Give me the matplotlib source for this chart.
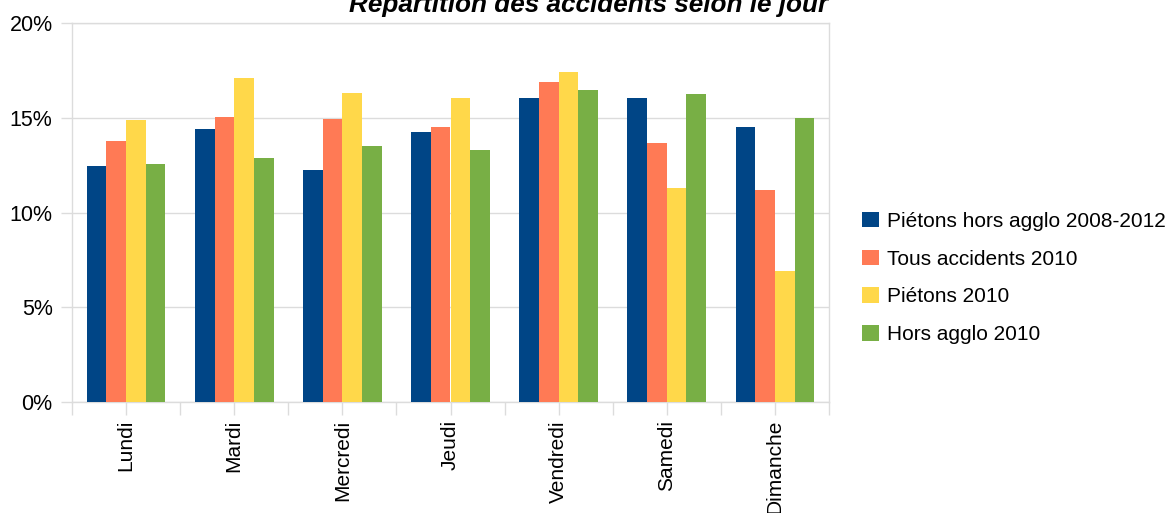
import matplotlib
matplotlib.use("Agg")
import matplotlib.pyplot as plt
import numpy as np
from matplotlib.ticker import FixedLocator

plt.rcParams['font.family'] = ['Liberation Sans', 'DejaVu Sans']

jours = ["Lundi", "Mardi", "Mercredi", "Jeudi", "Vendredi", "Samedi", "Dimanche"]
series_names = ["Piétons hors agglo 2008-2012", "Tous accidents 2010",
                "Piétons 2010", "Hors agglo 2010"]
pietons_hors_agglo = [12.46, 14.40, 12.26, 14.24, 16.07, 16.03, 14.52]
tous_accidents = [13.80, 15.05, 14.96, 14.50, 16.88, 13.66, 11.19]
pietons_2010 = [14.89, 17.12, 16.30, 16.07, 17.41, 11.30, 6.91]
hors_agglo = [12.58, 12.88, 13.51, 13.30, 16.49, 16.25, 15.00]
y_ticks = [0, 5, 10, 15, 20]
y_labels = ["0%", "5%", "10%", "15%", "20%"]
title = "Répartition des accidents selon le jour"

colors = ["#004586", "#FF7A55", "#FFD84A", "#78AF45"]
values = [pietons_hors_agglo, tous_accidents, pietons_2010, hors_agglo]

W, H = 1175, 513
fig = plt.figure(figsize=(W / 100, H / 100), dpi=100)
ax = fig.add_axes([72 / W, 1 - 402 / H, (829 - 72) / W, (402 - 23.3) / H])

x = np.arange(len(jours))
bw = 0.182
for i, (vals, col, name) in enumerate(zip(values, colors, series_names)):
    ax.bar(x + (i - 1.5) * bw, vals, width=bw, color=col, label=name,
           linewidth=0, zorder=3)

grid_col = "#dcdcdc"
ax.set_xlim(-0.5, len(jours) - 0.5)
ax.set_ylim(0, 20)
ax.set_yticks(y_ticks)
ax.set_yticklabels(y_labels)
ax.yaxis.grid(True, color=grid_col, linewidth=1, zorder=0)
ax.set_axisbelow(True)

ax.set_xticks(x)
ax.set_xticklabels(jours, rotation=90)
ax.xaxis.set_minor_locator(FixedLocator(np.arange(-0.5, len(jours), 1.0)))

for s in ax.spines.values():
    s.set_color(grid_col)
    s.set_linewidth(1)

ax.tick_params(axis='x', which='both', length=9.4, width=1, color=grid_col,
               labelsize=15, pad=3.6, labelcolor="#000000")
ax.tick_params(axis='y', length=8, width=1, color=grid_col, labelsize=15.5,
               pad=6, labelcolor="#000000")

fig.text(828 / W, 1 - 12 / H, title, ha='right', va='baseline',
         fontsize=18.8, fontweight='bold', fontstyle='italic', color="#000000")

fig.legend(loc='center left', bbox_to_anchor=(862 / W, 1 - 278 / H),
           bbox_transform=fig.transFigure, frameon=False, fontsize=15,
           handlelength=0.82, handleheight=0.77, handletextpad=0.36,
           labelspacing=0.91, borderpad=0, borderaxespad=0)

fig.savefig("out.png", dpi=100)
